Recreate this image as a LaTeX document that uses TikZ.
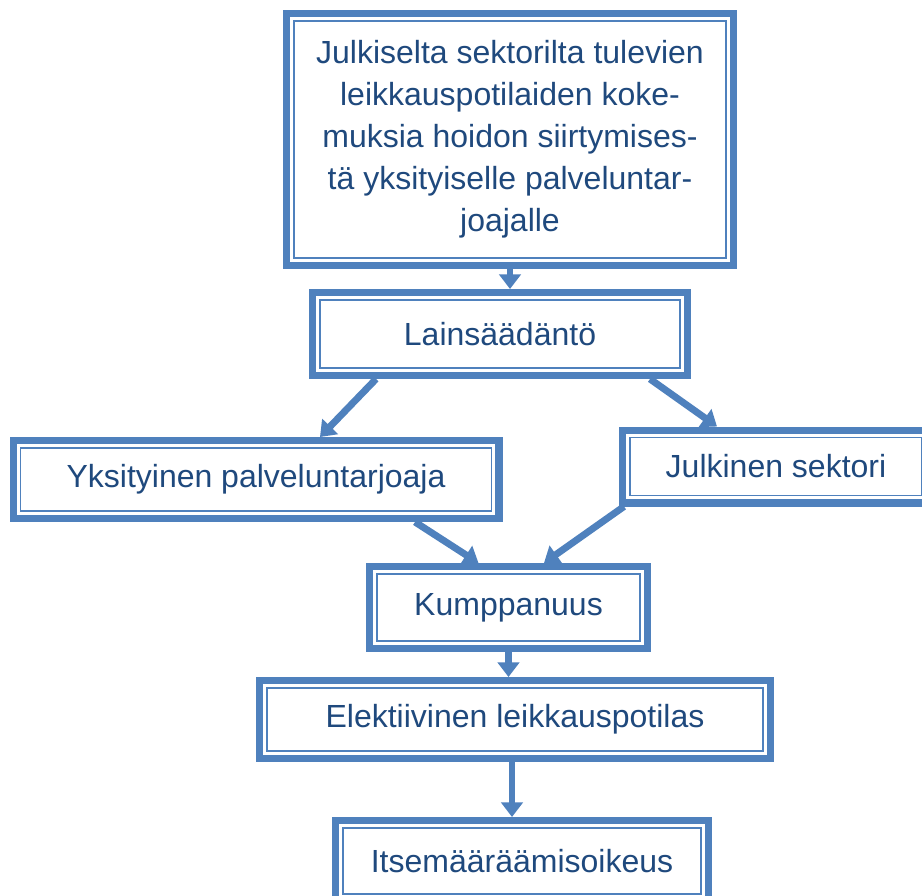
\documentclass[tikz,border=0pt]{standalone}
\usepackage{fontspec}
\setmainfont{Liberation Sans}
\usetikzlibrary{arrows.meta,calc}
\definecolor{boxblue}{HTML}{4F81BD}
\definecolor{txtblue}{HTML}{1F497D}
\begin{document}
\begin{tikzpicture}[x=0.75pt,y=-0.75pt,
  box/.style 2 args={draw=boxblue, line width=5.6pt, fill=white, rectangle, inner sep=0pt,
    text=txtblue, font=\fontsize{24pt}{31.5pt}\selectfont, align=center,
    minimum width={#1*0.75pt-5.6pt}, minimum height={#2*0.75pt-5.6pt}},
  arr/.style={draw=boxblue, line width=5.2pt, -{Triangle[width=16pt,length=11pt]}},
  innerframe/.style={draw=boxblue, line width=1.1pt}]
\useasboundingbox (0,0) rectangle (922,896);
\clip (0,0) rectangle (922,896);
\fill[white] (0,0) rectangle (922,896);

\node[box={454}{259}] (a) at (510,139.5) {Julkiselta sektorilta tulevien\\leikkauspotilaiden koke-\\muksia hoidon siirtymises-\\tä yksityiselle palveluntar-\\joajalle};
\node[box={382}{90}] (b) at (500,334) {Lainsäädäntö};
\node[box={493}{85}] (c) at (256,479.5) {Yksityinen palveluntarjoaja};
\node[box={314}{80}] (d) at (776,466.5) {Julkinen sektori};
\node[box={285}{89}] (e) at (508.5,607.5) {Kumppanuus};
\node[box={518}{85}] (f) at (515,719.5) {Elektiivinen leikkauspotilas};
\node[box={380}{88}] (g) at (522,861) {Itsemääräämisoikeus};

\foreach \n in {a,b,c,d,e,f,g}
  \draw[innerframe] ($(\n.north west)+(11,11)$) rectangle ($(\n.south east)+(-11,-11)$);

\draw[arr] (a.south) -- (a.south |- b.north);
\draw[arr] ($(b.south)+(-124,0)$) -- ($(c.north)+(64,0)$);
\draw[arr] ($(b.south)+(150,0)$) -- ($(d.north)+(-59,0)$);
\draw[arr] ($(c.south)+(159,0)$) -- ($(e.north)+(-30,0)$);
\draw[arr] ($(d.south west)+(5,0)$) -- ($(e.north)+(35.5,0)$);
\draw[arr] (e.south) -- (e.south |- f.north);
\draw[arr] ($(f.south)+(-3,0)$) -- ($(f.south |- g.north)+(-3,0)$);
\end{tikzpicture}
\end{document}
